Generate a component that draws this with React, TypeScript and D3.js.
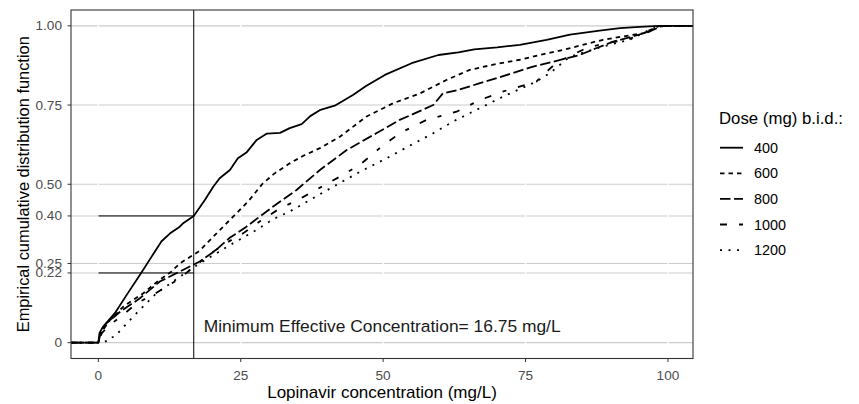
import React from 'react';
import * as d3 from 'd3';

// ---- data ----
const xTicks = [0, 25, 50, 75, 100];
const yTicks = [0, 0.22, 0.25, 0.4, 0.5, 0.75, 1.0];
const yTickLabels = ['0', '0.22', '0.25', '0.40', '0.50', '0.75', '1.00'];
const doseLabels = ['400', '600', '800', '1000', '1200'];
const mecValue = 16.75;
const mecLevels = [0.22, 0.4];

const ecdf400: [number, number][] = [
  [0, 0], [0.2, 0.03], [0.8, 0.05], [2.9, 0.093], [4.95, 0.15], [7.4, 0.217], [9.3, 0.27],
  [11.1, 0.32], [12.6, 0.345], [14.3, 0.366], [14.9, 0.377], [16.75, 0.4], [18.7, 0.45],
  [20.2, 0.493], [21.3, 0.519], [23.1, 0.545], [24.5, 0.582], [26, 0.6], [27.8, 0.64],
  [29.6, 0.66], [31.9, 0.662], [33.6, 0.677], [35.7, 0.69], [37.2, 0.715], [39, 0.735],
  [41.5, 0.748], [44.7, 0.782], [47, 0.81], [50.3, 0.845], [55, 0.882], [59.7, 0.908],
  [63.2, 0.916], [66, 0.926], [70, 0.932], [74, 0.94], [78.7, 0.956], [82.8, 0.972],
  [88, 0.985], [91.6, 0.993], [95, 0.997], [98.5, 1],
];
const ecdf600: [number, number][] = [
  [0, 0], [0.3, 0.02], [0.8, 0.04], [2, 0.07], [4.4, 0.114], [7.9, 0.156], [10.5, 0.195],
  [12.8, 0.224], [14.3, 0.25], [17.8, 0.29], [20.2, 0.335], [24.3, 0.409], [26.5, 0.45],
  [28.9, 0.503], [31, 0.535], [33.6, 0.566], [36, 0.59], [38.9, 0.614], [42.4, 0.65],
  [47.1, 0.714], [51.8, 0.756], [56.5, 0.787], [61.1, 0.829], [65.2, 0.861], [70, 0.88],
  [74, 0.893], [78, 0.91], [81.6, 0.924], [85, 0.94], [88.6, 0.956], [92, 0.966],
  [95.7, 0.977], [98.5, 1],
];
const ecdf800: [number, number][] = [
  [0, 0], [0.4, 0.03], [1.4, 0.061], [4, 0.1], [7.3, 0.14], [10.8, 0.193], [13.7, 0.219],
  [17.8, 0.256], [20.5, 0.29], [23, 0.33], [26, 0.366], [30.7, 0.43], [34.8, 0.482],
  [38.9, 0.545], [43.6, 0.608], [48.8, 0.661], [52.9, 0.703], [56.2, 0.729], [58.8, 0.75],
  [60.5, 0.787], [63.2, 0.798], [67, 0.819], [72.8, 0.851], [76, 0.87], [79.9, 0.887],
  [84.5, 0.908], [87.5, 0.93], [90.4, 0.95], [93.5, 0.965], [96.8, 0.982], [99, 1],
];
const ecdf1000: [number, number][] = [
  [0, 0], [0.6, 0.03], [2, 0.056], [4.5, 0.09], [6.7, 0.124], [9.5, 0.15], [12, 0.177],
  [14.5, 0.205], [16.1, 0.23], [20, 0.285], [22.5, 0.315], [25.4, 0.345], [28.5, 0.385],
  [31.9, 0.424], [35, 0.45], [37.7, 0.477], [42.4, 0.524], [45.9, 0.561], [49.4, 0.614],
  [52.9, 0.661], [57.6, 0.703], [62.9, 0.729], [67, 0.766], [71.1, 0.793], [76.9, 0.824],
  [79, 0.86], [80.5, 0.885], [85.7, 0.93], [89, 0.945], [92.7, 0.956], [95, 0.97],
  [97.4, 0.99], [99.2, 1],
];
const ecdf1200: [number, number][] = [
  [0, 0], [1.5, 0.005], [1.7, 0.012], [2.9, 0.02], [6.1, 0.082], [10.2, 0.156], [14.3, 0.208],
  [17.8, 0.25], [23.1, 0.308], [27.8, 0.356], [30.7, 0.39], [33.6, 0.414], [37.7, 0.456],
  [42, 0.5], [46, 0.54], [50.6, 0.582], [54.5, 0.62], [58.8, 0.661], [62.5, 0.7],
  [66.4, 0.735], [71.1, 0.777], [76.9, 0.824], [79.3, 0.851], [82.8, 0.903], [88.6, 0.935],
  [93.3, 0.956], [97, 0.99], [99.2, 1],
];
const allSeries = [ecdf400, ecdf600, ecdf800, ecdf1000, ecdf1200];

// ---- styles ----
const dashStyles = ['none', '4.5,4', '10.5,3.5', '7,12,4,12', '2,6.5'];
const FONT = "'Liberation Sans', Arial, Helvetica, sans-serif";

export default function App() {
  const W = 859;
  const H = 404;
  const left = 71, right = 693, top = 10, bottom = 358.5;
  const xDom: [number, number] = [-4.8, 104.4];
  const x = d3.scaleLinear().domain(xDom).range([left, right]);
  const y = d3.scaleLinear().domain([-0.05, 1.05]).range([bottom, top]);
  const line = d3
    .line<[number, number]>()
    .x((d) => x(d[0]))
    .y((d) => y(d[1]))
    .curve(d3.curveLinear);

  const legendX = 720;
  const legendY0 = 147.7;
  const legendStep = 25.6;

  return (
    <svg
      width={W}
      height={H}
      style={{ position: 'absolute', left: 0, top: 0, display: 'block', background: '#fff' }}
      fontFamily={FONT}
    >
      <defs>
        <clipPath id="panel">
          <rect x={left} y={top} width={right - left} height={bottom - top} />
        </clipPath>
      </defs>
      <rect x={0} y={0} width={W} height={H} fill="#fff" />
      {/* horizontal grid */}
      {yTicks.map((t, i) => (
        <line key={'gy' + i} x1={left} x2={right} y1={y(t)} y2={y(t)} stroke="#cccccc" strokeWidth={1.1} />
      ))}
      {/* vertical white grid */}
      {xTicks.map((t, i) => (
        <line key={'gx' + i} x1={x(t)} x2={x(t)} y1={top} y2={bottom} stroke="#ffffff" strokeWidth={1.4} />
      ))}
      {/* ECDF lines */}
      <g clipPath="url(#panel)">
        {allSeries.map((s, i) => {
          const pts: [number, number][] = [[xDom[0], 0], ...s, [xDom[1], 1]];
          return (
            <path
              key={'s' + i}
              d={line(pts) || ''}
              fill="none"
              stroke="#000"
              strokeWidth={1.8}
              strokeDasharray={dashStyles[i]}
              strokeLinejoin="round"
            />
          );
        })}
      </g>
      {/* MEC reference lines */}
      <line x1={x(mecValue)} x2={x(mecValue)} y1={top} y2={bottom} stroke="#000" strokeWidth={1} />
      {mecLevels.map((lv, i) => (
        <line key={'mh' + i} x1={x(0)} x2={x(mecValue)} y1={y(lv)} y2={y(lv)} stroke="#000" strokeWidth={1} />
      ))}
      <text
        x={x(18.5)}
        y={y(0.054)}
        dominantBaseline="central"
        fontSize={17.4}
        fill="#1a1a1a"
      >
        {`Minimum Effective Concentration= ${mecValue} mg/L`}
      </text>
      {/* panel border */}
      <rect x={left} y={top} width={right - left} height={bottom - top} fill="none" stroke="#333333" strokeWidth={1.1} />
      {/* y axis */}
      {yTicks.map((t, i) => (
        <g key={'yt' + i}>
          <line x1={left - 3.5} x2={left} y1={y(t)} y2={y(t)} stroke="#333333" strokeWidth={1} />
          <text
            x={left - 9}
            y={y(t)}
            textAnchor="end"
            dominantBaseline="central"
            fontSize={13.6}
            fill="#4d4d4d"
          >
            {yTickLabels[i]}
          </text>
        </g>
      ))}
      {/* x axis */}
      {xTicks.map((t, i) => (
        <g key={'xt' + i}>
          <line x1={x(t)} x2={x(t)} y1={bottom} y2={bottom + 3.5} stroke="#333333" strokeWidth={1} />
          <text x={x(t)} y={bottom + 17} textAnchor="middle" dominantBaseline="central" fontSize={13.6} fill="#4d4d4d">
            {String(t)}
          </text>
        </g>
      ))}
      <text
        x={(left + right) / 2}
        y={392}
        textAnchor="middle"
        dominantBaseline="central"
        fontSize={17}
        fill="#000"
      >
        Lopinavir concentration (mg/L)
      </text>
      <text
        transform={`translate(23,${(top + bottom) / 2}) rotate(-90)`}
        textAnchor="middle"
        dominantBaseline="central"
        fontSize={16.4}
        fill="#000"
      >
        Empirical cumulative distribution function
      </text>
      {/* legend */}
      <text x={719} y={118} dominantBaseline="central" fontSize={16.8} fill="#000">
        Dose (mg) b.i.d.:
      </text>
      {doseLabels.map((lab, i) => {
        const cy = legendY0 + i * legendStep;
        return (
          <g key={'lg' + i}>
            <line
              x1={legendX}
              x2={legendX + 23}
              y1={cy}
              y2={cy}
              stroke="#000"
              strokeWidth={1.8}
              strokeDasharray={dashStyles[i]}
            />
            <text x={754} y={cy} dominantBaseline="central" fontSize={14.4} fill="#000">
              {lab}
            </text>
          </g>
        );
      })}
    </svg>
  );
}
